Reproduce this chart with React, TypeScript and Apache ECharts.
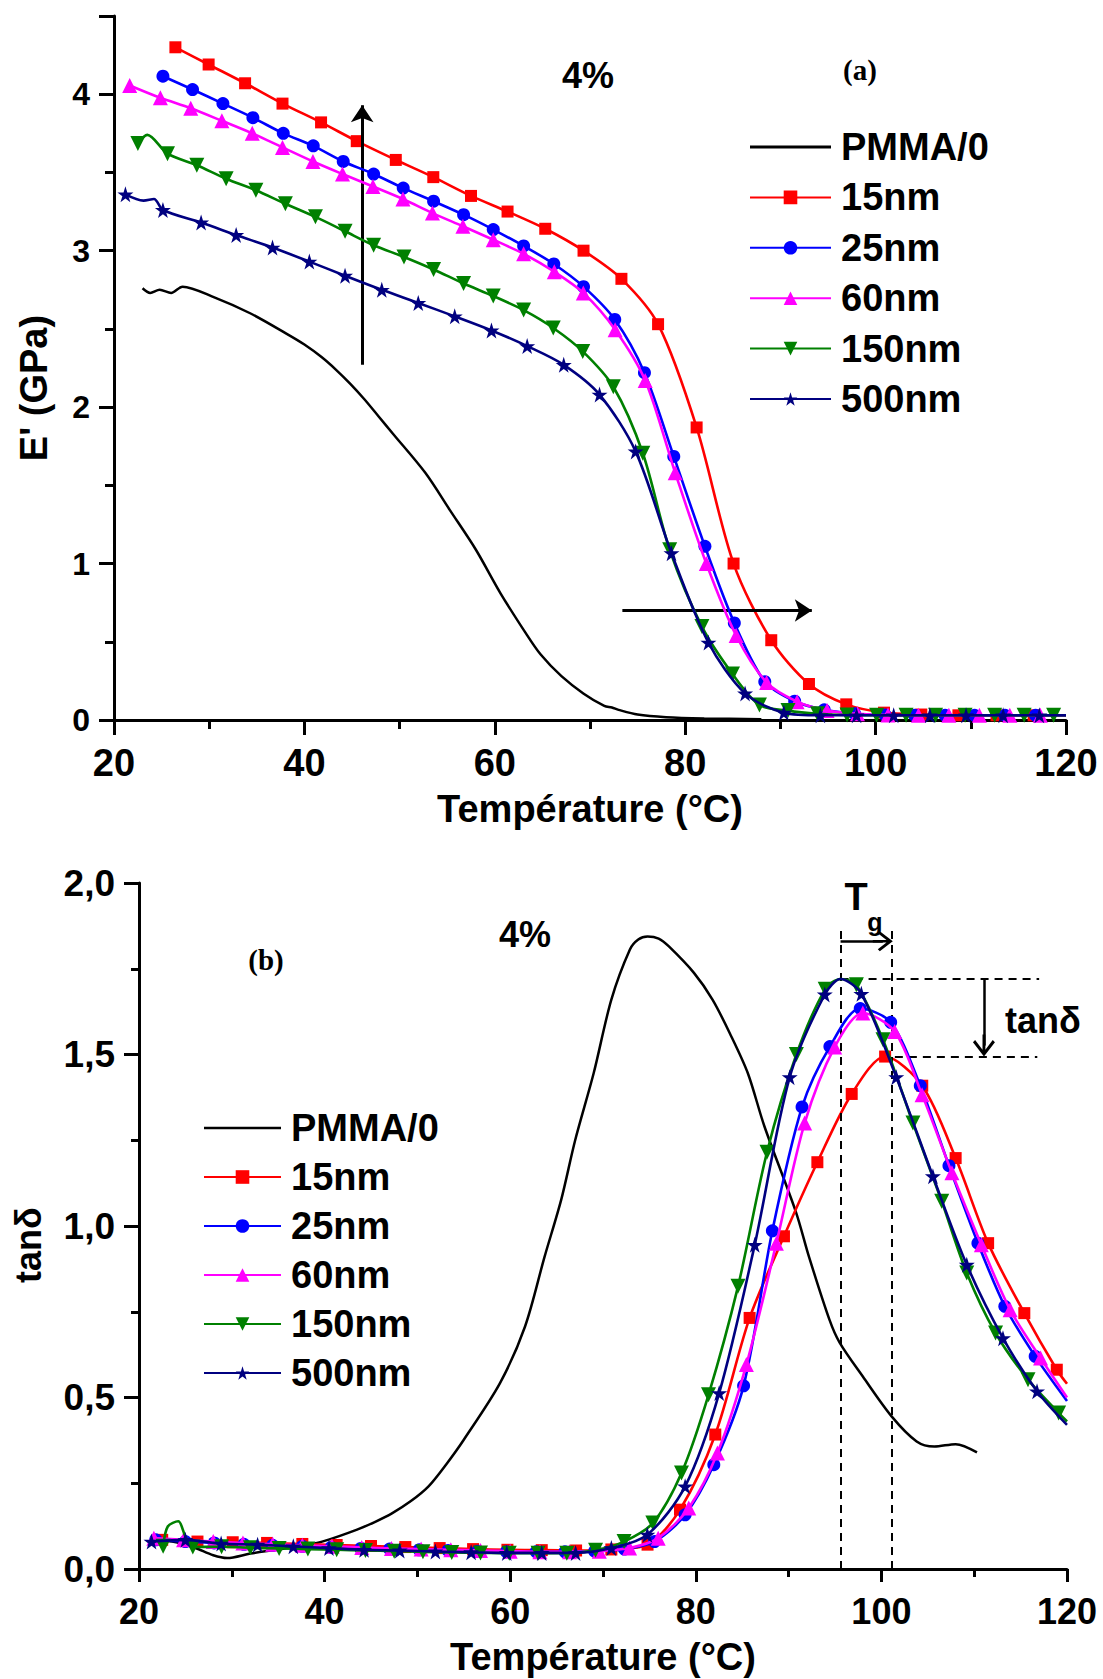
import React, { useEffect, useRef } from "react";
import * as echarts from "echarts";

const FONT = "'Liberation Sans', Arial, Helvetica, sans-serif";
const SERIF = "'Liberation Serif', 'Times New Roman', serif";

// ---------- shared ----------
const seriesNames = ["PMMA/0", "15nm", "25nm", "60nm", "150nm", "500nm"];
const seriesColors = ["#000000", "#ff0000", "#0000ff", "#ff00ff", "#008000", "#000080"];
const tempMin = 20;
const tempMax = 120;
const tempStep = 20;

// ---------- panel (a): E' (GPa) ----------
const modulusMax = 4.5;
const modulusStep = 1;

const modulusPMMA = [
  [23.0, 2.76], [23.8, 2.73], [24.8, 2.75], [26.0, 2.73], [27.2, 2.77], [30.6, 2.70],
  [34.3, 2.60], [38.1, 2.47], [40.0, 2.40], [41.8, 2.32], [43.3, 2.24], [44.8, 2.15],
  [46.3, 2.05], [47.8, 1.94], [49.3, 1.83], [52.7, 1.58], [55.3, 1.34], [58.0, 1.09],
  [60.6, 0.81], [63.2, 0.56], [64.8, 0.42], [67.0, 0.28], [69.3, 0.17], [71.5, 0.09],
  [72.3, 0.08], [73.0, 0.065], [75.0, 0.035], [78.0, 0.018], [82.0, 0.01], [88.0, 0.005],
];
const modulus15 = [
  [26.45, 4.30], [29.94, 4.19], [33.77, 4.07], [37.7, 3.94], [41.75, 3.82], [45.5, 3.70],
  [49.6, 3.58], [53.54, 3.47], [57.5, 3.35], [61.34, 3.25], [65.3, 3.14], [69.32, 3.0],
  [73.3, 2.82], [77.15, 2.53], [81.2, 1.87], [85.08, 1.0], [89.04, 0.51], [93.0, 0.23],
  [96.92, 0.10], [100.88, 0.047], [104.8, 0.035], [108.7, 0.03], [112.7, 0.03], [116.6, 0.03],
];
const modulus15Unmarked = [[120, 0.03]];
const modulus25 = [
  [25.14, 4.115], [28.25, 4.03], [31.44, 3.94], [34.59, 3.85], [37.78, 3.75], [40.93, 3.67],
  [44.08, 3.57], [47.27, 3.49], [50.38, 3.40], [53.57, 3.316], [56.72, 3.23], [59.84, 3.135],
  [63.03, 3.03], [66.2, 2.915], [69.32, 2.77], [72.6, 2.56], [75.72, 2.22], [78.8, 1.685],
  [82.07, 1.11], [85.16, 0.62], [88.36, 0.245], [91.5, 0.12], [94.6, 0.065], [97.8, 0.04],
  [101.0, 0.032], [104.1, 0.03], [107.3, 0.03], [110.4, 0.03], [113.6, 0.03], [116.8, 0.03],
];
const modulus25Unmarked = [[120, 0.03]];
const modulus60 = [
  [21.65, 4.056], [24.87, 3.977], [28.06, 3.91], [31.33, 3.83], [34.52, 3.75], [37.7, 3.66],
  [40.9, 3.57], [44.0, 3.49], [47.2, 3.41], [50.35, 3.33], [53.45, 3.24], [56.65, 3.156],
  [59.84, 3.07], [63.03, 2.98], [66.25, 2.865], [69.3, 2.73], [72.64, 2.495], [75.8, 2.17],
  [78.95, 1.58], [82.22, 1.0], [85.35, 0.54], [88.55, 0.24], [91.75, 0.117], [94.9, 0.06],
  [98.1, 0.04], [101.3, 0.032], [104.5, 0.03], [107.7, 0.03], [110.9, 0.03], [114.1, 0.03],
  [117.3, 0.03],
];
const modulus60Unmarked = [[120, 0.03]];
const modulus150 = [
  [22.51, 3.685], [25.62, 3.62], [28.7, 3.546], [31.78, 3.46], [34.9, 3.386], [38.0, 3.30],
  [41.16, 3.216], [44.27, 3.124], [47.27, 3.035], [50.46, 2.96], [53.57, 2.88], [56.72, 2.79],
  [59.84, 2.71], [63.03, 2.62], [66.14, 2.506], [69.24, 2.356], [72.45, 2.13], [75.55, 1.705],
  [78.37, 1.088], [81.76, 0.597], [84.97, 0.294], [87.8, 0.096], [90.8, 0.06], [93.9, 0.04],
  [97.0, 0.032], [100.1, 0.03], [103.2, 0.03], [106.3, 0.03], [109.4, 0.03], [112.5, 0.03],
  [115.6, 0.03], [118.7, 0.03],
];
const modulus150Unmarked = [[23.5, 3.74], [120, 0.03]];
const modulus500 = [
  [21.2, 3.36], [25.14, 3.26], [29.15, 3.18], [32.83, 3.10], [36.65, 3.02], [40.52, 2.93],
  [44.27, 2.84], [48.13, 2.75], [51.96, 2.666], [55.79, 2.58], [59.65, 2.49], [63.4, 2.39],
  [67.24, 2.27], [71.0, 2.08], [74.79, 1.717], [78.56, 1.066], [82.44, 0.495], [86.29, 0.17],
  [90.36, 0.047], [94.2, 0.03], [98.0, 0.03], [101.9, 0.03], [105.7, 0.03], [109.5, 0.03],
  [113.4, 0.03], [117.2, 0.03],
];
const modulus500Unmarked = [[23.1, 3.32], [24.2, 3.33], [120, 0.03]];

// ---------- panel (b): tan delta ----------
const tanMax = 2;
const tanStep = 0.5;

const tanPMMA = [
  [21.5, 0.085], [24.0, 0.078], [26.0, 0.062], [28.0, 0.04], [29.5, 0.032], [32.0, 0.045],
  [35.0, 0.057], [38.0, 0.07], [40.0, 0.082], [43.5, 0.115], [45.4, 0.137], [47.3, 0.163],
  [49.3, 0.198], [51.2, 0.241], [53.1, 0.305], [55.0, 0.377], [58.9, 0.542], [61.6, 0.707],
  [63.7, 0.91], [65.5, 1.077], [67.0, 1.25], [69.0, 1.446], [70.9, 1.66], [72.9, 1.806],
  [73.8, 1.835], [74.8, 1.844], [76.0, 1.838], [77.1, 1.815], [79.8, 1.738], [81.8, 1.66],
  [83.7, 1.56], [85.6, 1.446], [87.4, 1.29], [90.8, 1.04], [92.2, 0.91], [94.4, 0.727],
  [95.5, 0.66], [98.0, 0.561], [101.1, 0.445], [103.8, 0.372], [105.7, 0.357], [108.0, 0.364],
  [110.3, 0.34],
];
const tan15 = [
  [22.5, 0.085], [26.3, 0.08], [30.1, 0.078], [33.8, 0.076], [37.6, 0.073], [41.3, 0.07],
  [45.0, 0.067], [48.7, 0.064], [52.4, 0.061], [56.0, 0.058], [59.7, 0.056], [63.4, 0.055],
  [67.1, 0.054], [70.9, 0.057], [74.8, 0.071], [78.3, 0.173], [82.1, 0.392], [85.8, 0.732],
  [89.5, 0.97], [93.1, 1.186], [96.8, 1.385], [100.4, 1.494], [104.4, 1.409], [108.0, 1.198],
  [111.5, 0.95], [115.4, 0.746], [118.9, 0.581],
];
const tan15Unmarked = [[120, 0.54]];
const tan25 = [
  [21.8, 0.085], [25.0, 0.08], [28.1, 0.076], [31.3, 0.072], [34.4, 0.069], [37.6, 0.066],
  [40.7, 0.063], [43.9, 0.06], [47.0, 0.058], [50.2, 0.056], [53.3, 0.054], [56.5, 0.052],
  [59.6, 0.05], [62.8, 0.05], [65.9, 0.05], [69.1, 0.052], [72.3, 0.058], [75.56, 0.08],
  [78.85, 0.158], [81.94, 0.304], [85.15, 0.534], [88.25, 0.986], [91.45, 1.347], [94.45, 1.523],
  [97.72, 1.634], [101.0, 1.594], [104.19, 1.409], [107.28, 1.176], [110.4, 0.95], [113.3, 0.766],
  [116.57, 0.62],
];
const tan25Unmarked = [[120, 0.49]];
const tan60 = [
  [21.6, 0.09], [24.8, 0.085], [28.0, 0.08], [31.2, 0.076], [34.4, 0.072], [37.6, 0.069],
  [40.8, 0.066], [44.0, 0.063], [47.2, 0.06], [50.4, 0.058], [53.6, 0.056], [56.8, 0.054],
  [60.0, 0.052], [63.2, 0.05], [66.4, 0.05], [69.6, 0.052], [72.86, 0.061], [75.95, 0.09],
  [79.24, 0.178], [82.33, 0.338], [85.45, 0.596], [88.68, 0.95], [91.73, 1.3], [94.97, 1.522],
  [98.0, 1.621], [101.43, 1.567], [104.38, 1.383], [107.6, 1.155], [110.77, 0.945], [113.87, 0.756],
  [117.15, 0.615],
];
const tan60Unmarked = [[120, 0.5]];
const tan150 = [
  [22.6, 0.066], [25.8, 0.064], [28.9, 0.065], [32.0, 0.062], [35.1, 0.06], [38.2, 0.058],
  [41.3, 0.056], [44.4, 0.054], [47.5, 0.052], [50.6, 0.05], [53.7, 0.048], [56.8, 0.047],
  [59.9, 0.046], [63.0, 0.046], [66.1, 0.046], [69.2, 0.055], [72.27, 0.08], [75.37, 0.134],
  [78.46, 0.28], [81.37, 0.508], [84.55, 0.824], [87.67, 1.215], [90.84, 1.5], [93.94, 1.69],
  [97.3, 1.703], [100.17, 1.543], [103.4, 1.3], [106.5, 1.072], [109.2, 0.863], [112.3, 0.688],
  [115.8, 0.552], [119.1, 0.455],
];
const tan150Unmarked = [[23.1, 0.124], [24.23, 0.139], [25.0, 0.095], [95.6, 1.72], [120, 0.43]];
const tan500 = [
  [21.35, 0.08], [25.0, 0.085], [28.85, 0.074], [32.78, 0.071], [36.63, 0.066], [40.47, 0.061],
  [44.25, 0.056], [48.1, 0.054], [51.94, 0.051], [55.79, 0.049], [59.63, 0.047], [63.4, 0.047],
  [67.05, 0.047], [70.9, 0.061], [74.78, 0.1], [78.85, 0.241], [82.52, 0.513], [86.35, 0.945],
  [90.12, 1.434], [93.9, 1.675], [97.84, 1.677], [101.6, 1.434], [105.55, 1.145], [109.2, 0.887],
  [113.1, 0.673], [116.77, 0.518],
];
const tan500Unmarked = [[95.6, 1.72], [120, 0.42]];

// ---------- annotations (data coordinates) ----------
const modulusUpArrow = [[46.07, 2.27], [46.07, 3.93]];
const modulusRightArrow = [[73.4, 0.70], [93.3, 0.70]];
const tgLeft = 95.6;
const tgRight = 101.15;
const tgTop = 1.86;
const tgArrowY = 1.83;
const tanPeakHigh = 1.72;
const tanPeakLow = 1.494;
const tanGuideEnd = 117.0;
const tanArrowX = 111.05;

// ---------- styling ----------
const STAR =
  "path://M50,0 L61.2,34.5 L97.6,34.5 L68.2,55.9 L79.4,90.5 L50,69.1 L20.6,90.5 L31.8,55.9 L2.4,34.5 L38.8,34.5 Z";
const CHEVRON =
  "path://M10,0 L20,13 L18,15 L11.3,6.3 L11.3,20 L8.7,20 L8.7,6.3 L2,15 L0,13 Z";
const LINE_ICON = "path://M0,0 L100,0 L100,3.4 L0,3.4 Z";
const seriesSymbols = ["none", "rect", "circle", "triangle", "triangle", STAR];
const seriesSymbolRotate = [0, 0, 0, 0, 180, 0];
const seriesSymbolSize = [0, 12, 13, 15, 15, 16];

function buildData(marked: number[][], unmarked: number[][] = []) {
  const pts: any[] = [
    ...marked.map((p) => ({ value: p })),
    ...unmarked.map((p) => ({ value: p, symbol: "none" })),
  ];
  pts.sort((a, b) => a.value[0] - b.value[0]);
  return pts;
}

function makeSeries(i: number, axis: number, marked: number[][], unmarked: number[][] = [], extra: any = {}) {
  return {
    type: "line",
    name: seriesNames[i],
    xAxisIndex: axis,
    yAxisIndex: axis,
    data: buildData(marked, unmarked),
    smooth: 0.3,
    showAllSymbol: true,
    symbol: seriesSymbols[i],
    symbolSize: seriesSymbolSize[i],
    symbolRotate: seriesSymbolRotate[i],
    lineStyle: { color: seriesColors[i], width: i === 0 ? 2.5 : 2.6 },
    itemStyle: { color: seriesColors[i] },
    emphasis: { disabled: true },
    silent: true,
    animation: false,
    z: i === 0 ? 2 : 3 + i,
    ...extra,
  };
}

function axisStyle(fontSize: number, tickLen: number, minorLen: number, margin: number) {
  return {
    axisLine: { show: true, onZero: false, lineStyle: { color: "#000", width: 3 } },
    axisTick: { show: true, inside: false, length: tickLen, lineStyle: { color: "#000", width: 3 } },
    minorTick: { show: true, splitNumber: 2, length: minorLen, lineStyle: { color: "#000", width: 3 } },
    splitLine: { show: false },
    minorSplitLine: { show: false },
    axisLabel: {
      color: "#000",
      fontFamily: FONT,
      fontWeight: "bold",
      fontSize,
      margin,
    },
  };
}

function txt(text: string, x: number, y: number, size: number, opts: any = {}) {
  return {
    type: "text",
    x,
    y,
    rotation: opts.rotation || 0,
    silent: true,
    style: {
      text,
      fill: "#000",
      font: `bold ${size}px ${opts.family || FONT}`,
      align: opts.align || "center",
      verticalAlign: "middle",
      textAlign: opts.align || "center",
      textVerticalAlign: "middle",
    },
  };
}

export default function App() {
  const ref = useRef<HTMLDivElement>(null);

  useEffect(() => {
    document.body.style.margin = "0";
    if (!ref.current) return;
    const chart = echarts.init(ref.current, undefined, { renderer: "svg" });

    const legendData = seriesNames.map((n, i) => (i === 0 ? { name: n, icon: LINE_ICON } : { name: n }));
    const legendText = {
      fontFamily: FONT,
      fontWeight: "bold",
      fontSize: 38,
      lineHeight: 38,
      color: "#000",
      padding: [0, 0, 0, 5],
    };

    const dashed = { color: "#000", width: 2, type: [8, 6] };
    const solid = { color: "#000", width: 2.5, type: "solid" };

    const option: any = {
      animation: false,
      backgroundColor: "#ffffff",
      grid: [
        { left: 114, top: 16, width: 952, height: 704 },
        { left: 139, top: 883, width: 928, height: 686 },
      ],
      xAxis: [
        {
          type: "value", gridIndex: 0, min: tempMin, max: tempMax, interval: tempStep,
          ...axisStyle(38, 15, 9, 24),
        },
        {
          type: "value", gridIndex: 1, min: tempMin, max: tempMax, interval: tempStep,
          ...axisStyle(36, 13, 8, 24),
        },
      ],
      yAxis: [
        (() => {
          const s: any = axisStyle(32, 15, 9, 24);
          s.axisLabel.showMaxLabel = false;
          return { type: "value", gridIndex: 0, min: 0, max: modulusMax, interval: modulusStep, ...s };
        })(),
        (() => {
          const s: any = axisStyle(37, 15, 8, 24);
          s.axisLabel.formatter = (v: number) => v.toFixed(1).replace(".", ",");
          return { type: "value", gridIndex: 1, min: 0, max: tanMax, interval: tanStep, ...s };
        })(),
      ],
      legend: [
        {
          orient: "vertical", left: 749, top: 128, padding: 0, itemWidth: 81, itemHeight: 17, itemGap: 12.4,
          selectedMode: false, textStyle: legendText, data: legendData,
        },
        {
          orient: "vertical", left: 203, top: 1109, padding: 0, itemWidth: 77, itemHeight: 17, itemGap: 11.0,
          selectedMode: false, textStyle: legendText, data: legendData,
        },
      ],
      graphic: [
        txt("4%", 588, 75, 36),
        txt("(a)", 860, 70, 29, { family: SERIF }),
        txt("E' (GPa)", 34, 388, 38, { rotation: Math.PI / 2 }),
        txt("Température (°C)", 590, 809, 38),
        txt("4%", 525, 934, 36),
        txt("(b)", 266, 960, 29, { family: SERIF }),
        txt("tanδ", 28, 1245, 36, { rotation: Math.PI / 2 }),
        txt("Température (°C)", 603, 1657, 38),
        txt("T", 856, 897, 38),
        txt("g", 875, 922, 25),
        txt("tanδ", 1005, 1020, 36, { align: "left" }),
      ],
      series: [
        makeSeries(0, 0, modulusPMMA, [], {
          markLine: {
            silent: true,
            animation: false,
            symbol: ["none", "none"],
            label: { show: false },
            emphasis: { disabled: true },
            lineStyle: { color: "#000", width: 3, type: "solid" },
            data: [
              [
                { coord: modulusUpArrow[0], symbol: "none" },
                { coord: modulusUpArrow[1], symbol: "arrow", symbolSize: 17 },
              ],
              [
                { coord: modulusRightArrow[0], symbol: "none" },
                { coord: modulusRightArrow[1], symbol: "arrow", symbolSize: 17 },
              ],
            ],
          },
        }),
        makeSeries(1, 0, modulus15, modulus15Unmarked),
        makeSeries(2, 0, modulus25, modulus25Unmarked),
        makeSeries(3, 0, modulus60, modulus60Unmarked),
        makeSeries(4, 0, modulus150, modulus150Unmarked),
        makeSeries(5, 0, modulus500, modulus500Unmarked),
        makeSeries(0, 1, tanPMMA, [], {
          markLine: {
            silent: true,
            animation: false,
            symbol: ["none", "none"],
            label: { show: false },
            emphasis: { disabled: true },
            data: [
              [{ coord: [tgLeft, 0], lineStyle: dashed }, { coord: [tgLeft, tgTop] }],
              [{ coord: [tgRight, 0], lineStyle: dashed }, { coord: [tgRight, tgTop] }],
              [{ coord: [tgLeft, tanPeakHigh], lineStyle: dashed }, { coord: [tanGuideEnd, tanPeakHigh] }],
              [{ coord: [tgRight + 0.3, tanPeakLow], lineStyle: dashed }, { coord: [tanGuideEnd - 0.2, tanPeakLow] }],
              [
                { coord: [tgLeft, tgArrowY], lineStyle: solid, symbol: "none" },
                { coord: [tgRight - 1.0, tgArrowY], symbol: CHEVRON, symbolSize: 20 },
              ],
              [
                { coord: [tanArrowX, tanPeakHigh], lineStyle: solid, symbol: "none" },
                { coord: [tanArrowX, tanPeakLow + 0.032], symbol: CHEVRON, symbolSize: 22 },
              ],
            ],
          },
        }),
        makeSeries(1, 1, tan15, tan15Unmarked),
        makeSeries(2, 1, tan25, tan25Unmarked),
        makeSeries(3, 1, tan60, tan60Unmarked),
        makeSeries(4, 1, tan150, tan150Unmarked),
        makeSeries(5, 1, tan500, tan500Unmarked),
      ],
    };

    chart.setOption(option);
    return () => {
      chart.dispose();
    };
  }, []);

  return <div ref={ref} style={{ width: 1103, height: 1679 }} />;
}
